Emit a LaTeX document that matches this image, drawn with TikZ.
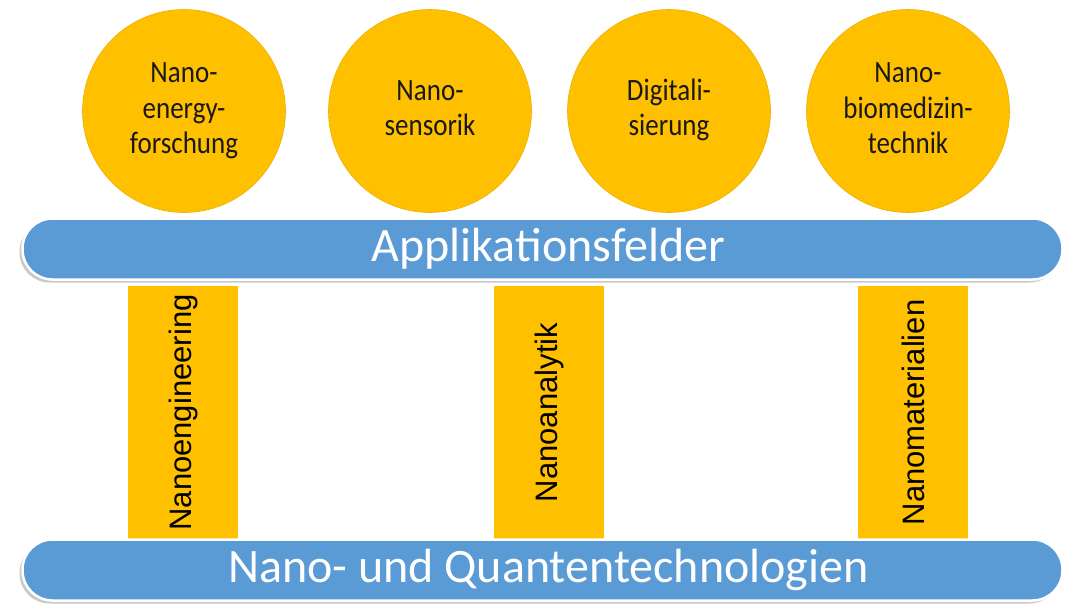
\documentclass[tikz,border=0pt]{standalone}
\usepackage{fontspec}
\usepackage{graphicx}
\setmainfont{Carlito}
\newfontfamily\arialf{Liberation Sans}
\usetikzlibrary{shadows}
\definecolor{gold}{HTML}{FFC000}
\definecolor{obl}{HTML}{5B9BD5}
\newcommand{\vstk}[1]{\scalebox{1}[1.15]{\begin{tabular}{@{}c@{}}#1\end{tabular}}}
\begin{document}
\begin{tikzpicture}[x=1pt,y=-1pt,
 circ/.style={circle, fill=gold, draw=gold!92!black, line width=0.6pt, minimum size=203pt, inner sep=0pt, font=\fontsize{27}{31}\selectfont, text=black!90},
 bar/.style={rectangle, rounded corners=30pt, fill=obl, draw=white, line width=2.5pt,
   drop shadow={shadow xshift=-3pt, shadow yshift=-3pt, opacity=0.35, fill=black!60},
   minimum width=1040pt, minimum height=61pt, text=white, font=\fontsize{48}{52}\selectfont, inner sep=0pt},
 pillar/.style={rectangle, rotate=90, fill=gold, draw=white, line width=1pt, minimum width=255pt, minimum height=111pt, inner sep=0pt, font=\arialf\fontsize{31}{34}\selectfont, text=black}]
\useasboundingbox (0,0) rectangle (1068,605);
\fill[white] (0,0) rectangle (1068,605);
% pillars
\node[pillar] (p1) at (183,412.5) {Nanoengineering};
\node[pillar] (p2) at (549,412.5) {Nanoanalytik};
\node[pillar] (p3) at (913,412.5) {Nanomaterialien};
% bars
\node[bar] (app) at (542.5,249) {\hspace*{12pt}Applikationsfelder};
\node[bar] (base) at (542.5,570) {\hspace*{12pt}Nano- und Quantentechnologien};
% circles
\node[circ] (c1) at (184,111) {\vstk{Nano-\\energy-\\forschung}};
\node[circ] (c2) at (430,111) {\vstk{Nano-\\sensorik}};
\node[circ] (c3) at (669,111) {\vstk{Digitali-\\sierung}};
\node[circ] (c4) at (908,111) {\vstk{Nano-\\biomedizin-\\technik}};
\end{tikzpicture}
\end{document}
